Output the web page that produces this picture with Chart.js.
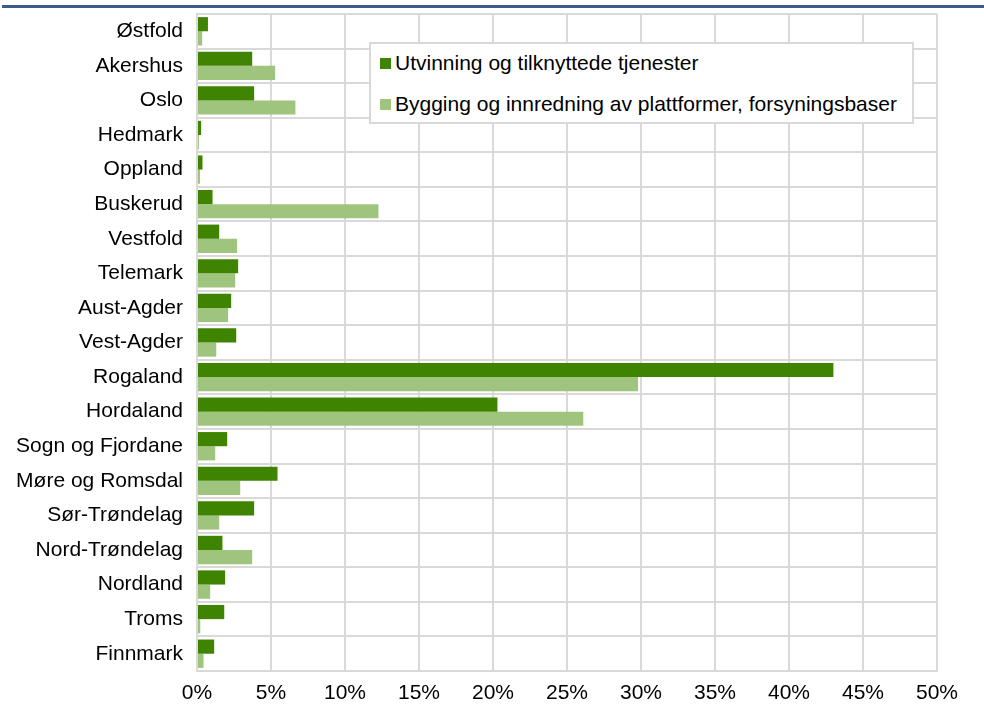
<!DOCTYPE html>
<html>
<head>
<meta charset="utf-8">
<script src="https://cdn.jsdelivr.net/npm/chart.js@4/dist/chart.umd.min.js"></script>
<style>
  html, body { margin: 0; padding: 0; background: #fff; }
  #wrap { position: relative; width: 984px; height: 709px; font-family: "Liberation Sans", Arial, sans-serif; }
  #topline { position: absolute; left: 2px; right: 0; top: 5px; height: 3px; background: #3f5a8a; }
  #legend { position: absolute; left: 369px; top: 42px; width: 541px; height: 78px;
            border: 2px solid #d9d9d9; background: #fff; font-size: 21px; color: #000; }
  .item { position: absolute; left: 9px; white-space: nowrap; line-height: 24px; }
  .item span { display: inline-block; width: 11px; height: 11px; margin-right: 4px; vertical-align: 1px; }
</style>
</head>
<body>
<div id="wrap">
  <canvas id="chart" width="984" height="709"></canvas>
  <div id="topline"></div>
  <div id="legend"></div>
</div>
<script>
const regions = ['Østfold', 'Akershus', 'Oslo', 'Hedmark', 'Oppland', 'Buskerud', 'Vestfold',
  'Telemark', 'Aust-Agder', 'Vest-Agder', 'Rogaland', 'Hordaland', 'Sogn og Fjordane',
  'Møre og Romsdal', 'Sør-Trøndelag', 'Nord-Trøndelag', 'Nordland', 'Troms', 'Finnmark'];

// Utvinning og tilknyttede tjenester (%)
const utvinning = [0.74, 3.73, 3.86, 0.28, 0.37, 1.05, 1.5, 2.78, 2.31, 2.65,
  43.0, 20.3, 2.04, 5.44, 3.86, 1.72, 1.9, 1.84, 1.16];

// Bygging og innredning av plattformer, forsyningsbaser (%)
const bygging = [0.35, 5.28, 6.65, 0.13, 0.2, 12.26, 2.71, 2.58, 2.1, 1.3,
  29.8, 26.1, 1.23, 2.92, 1.5, 3.73, 0.89, 0.22, 0.44];

const seriesNames = ['Utvinning og tilknyttede tjenester',
  'Bygging og innredning av plattformer, forsyningsbaser'];
const seriesColors = ['#3f8400', '#9fc47e'];
const xTicks = [0, 5, 10, 15, 20, 25, 30, 35, 40, 45, 50];

const font = { family: '"Liberation Sans", Arial, sans-serif', size: 21 };
const gridColor = '#d9d9d9';

new Chart(document.getElementById('chart'), {
  type: 'bar',
  data: {
    labels: regions,
    datasets: [
      { label: seriesNames[0], data: utvinning, backgroundColor: seriesColors[0] },
      { label: seriesNames[1], data: bygging, backgroundColor: seriesColors[1] },
    ],
  },
  options: {
    indexAxis: 'y',
    responsive: false,
    animation: false,
    categoryPercentage: 0.82,
    barPercentage: 1,
    layout: { padding: { top: 14, right: 47, bottom: 0, left: 0 } },
    scales: {
      x: {
        min: 0,
        max: 50,
        afterBuildTicks: (s) => { s.ticks = xTicks.map(v => ({ value: v })); },
        afterFit: (s) => { s.height = 38; },
        grid: { color: gridColor, lineWidth: 2, drawTicks: false },
        border: { color: gridColor, width: 2 },
        ticks: { font, color: '#000', padding: 10, callback: (v) => v + '%' },
      },
      y: {
        // keep the label padding from pushing the plot area down
        afterFit: (s) => { s.width = 197; s.paddingTop = 0; s.paddingBottom = 0; },
        grid: { color: gridColor, lineWidth: 2, drawTicks: false },
        border: { color: gridColor, width: 2 },
        ticks: { font, color: '#000', padding: 14, autoSkip: false },
      },
    },
    plugins: {
      legend: { display: false },
      tooltip: { enabled: false },
    },
  },
});

const legend = document.getElementById('legend');
seriesNames.forEach((name, i) => {
  const div = document.createElement('div');
  div.className = 'item';
  div.style.top = (i === 0 ? 7 : 48) + 'px';
  div.innerHTML = `<span style="background:${seriesColors[i]}"></span>${name}`;
  legend.appendChild(div);
});
</script>
</body>
</html>
